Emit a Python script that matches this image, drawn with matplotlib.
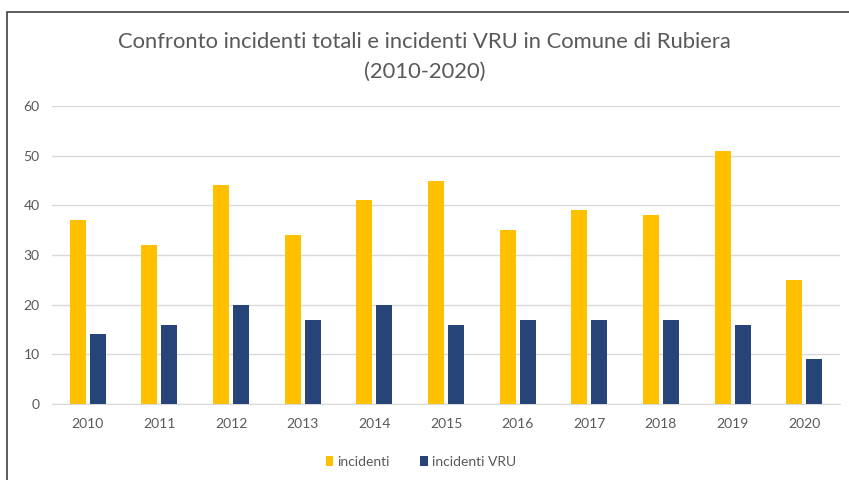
import numpy as np
import matplotlib.pyplot as plt
from matplotlib.patches import Rectangle

years = ["2010", "2011", "2012", "2013", "2014", "2015", "2016", "2017", "2018", "2019", "2020"]
incidenti = [37, 32, 44, 34, 41, 45, 35, 39, 38, 51, 25]
incidenti_vru = [14, 16, 20, 17, 20, 16, 17, 17, 17, 16, 9]

plt.rcParams["font.family"] = ["Lato", "DejaVu Sans"]

fig = plt.figure(figsize=(8.49, 4.8), dpi=100)
ax = fig.add_axes([52 / 849, 1 - 404 / 480, 788 / 849, 298 / 480])

x = np.arange(len(years))
w = 0.223
ax.bar(x - 0.14, incidenti, w, color="#FFC000", label="incidenti", zorder=3)
ax.bar(x + 0.14, incidenti_vru, w, color="#264478", label="incidenti VRU", zorder=3)

ax.set_xlim(-0.5, len(years) - 0.5)
ax.set_ylim(0, 60)
ax.set_yticks(range(0, 61, 10))
ax.set_xticks(x)
ax.set_xticklabels(years)
ax.yaxis.grid(True, color="#d9d9d9", linewidth=1, zorder=0)
for s in ax.spines.values():
    s.set_visible(False)
ax.spines["bottom"].set_visible(True)
ax.spines["bottom"].set_color("#d9d9d9")
ax.tick_params(length=0, labelsize=10, labelcolor="#595959")
ax.tick_params(axis="x", pad=10)
ax.tick_params(axis="y", pad=9)

fig.text(0.5, 1 - 57 / 480, "Confronto incidenti totali e incidenti VRU in Comune di Rubiera\n(2010-2020)",
         ha="center", va="center", fontsize=15.8, color="#595959", linespacing=1.6)

fig.legend(loc="center", bbox_to_anchor=(421 / 849, 1 - 462 / 480), ncol=2, frameon=False,
           fontsize=10, labelcolor="#595959", handlelength=0.55, handleheight=0.7,
           handletextpad=0.3, columnspacing=2.2)

# chart border
fig.patches.append(Rectangle((7 / 849, -0.1), 1.2, 1 - 12 / 480 + 0.1, transform=fig.transFigure,
                             fill=False, edgecolor="#404040", linewidth=1.2))

fig.savefig("out.png", dpi=100)
